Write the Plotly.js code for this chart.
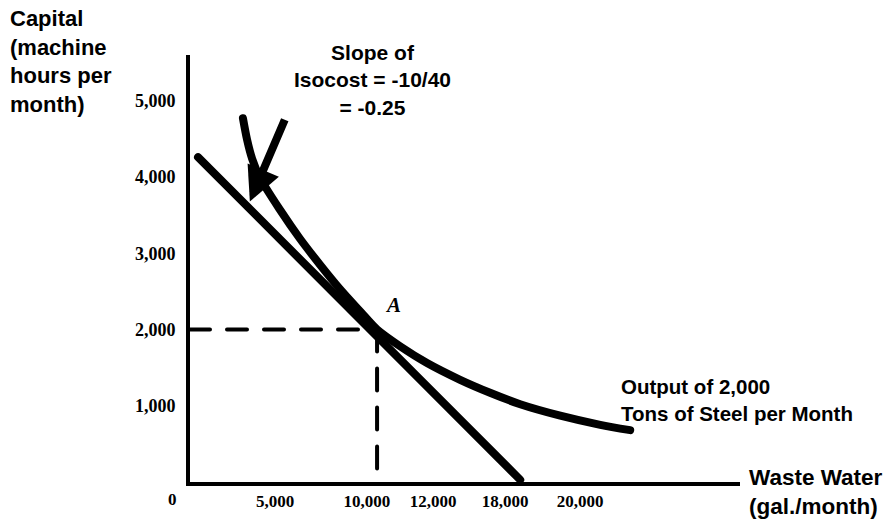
<!DOCTYPE html>
<html>
<head>
<meta charset="utf-8">
<script src="https://cdn.plot.ly/plotly-3.0.1.min.js"></script>
<style>
html,body{margin:0;padding:0;background:#fff;}
#chart{width:892px;height:523px;}
.scatterlayer path.js-line{stroke-linecap:round;}
</style>
</head>
<body>
<div id="chart"></div>
<script>
// Isoquant: output of 2,000 tons of steel per month
const isoquantX = [2830, 3050, 3320, 3740, 4810, 5880, 6950, 8020, 9090, 10000, 11230, 12670, 14440, 16040, 17650, 19790, 21930, 23530];
const isoquantY = [4770, 4490, 4240, 3990, 3570, 3190, 2850, 2530, 2240, 2000, 1780, 1560, 1340, 1170, 1020, 870, 750, 680];
// Isocost line
const isocostX = [430, 17650];
const isocostY = [4260, 30];
// Point A (tangency)
const pointA = {x: 10000, y: 2000};
// Tick labels (the source figure places its x labels unevenly; positions follow the figure)
const xTickPositions = [4550, 9450, 13000, 16850, 20850];
const xTickText = ["5,000", "10,000", "12,000", "18,000", "20,000"];
const yTickVals = [1000, 2000, 3000, 4000, 5000];
const yTickText = ["1,000", "2,000", "3,000", "4,000", "5,000"];
// Slope arrow (tail -> tip)
const arrowTail = {x: 5100, y: 4770};
const arrowTip = {x: 3200, y: 3680};

const sans = "Arial, 'Liberation Sans', sans-serif";
const serif = "'Times New Roman', 'Liberation Serif', serif";
const b = s => '<b>' + s + '</b>';

const traces = [
  {x: [0, pointA.x], y: [pointA.y, pointA.y], mode: 'lines',
   line: {color: '#000', width: 4, dash: '20px,17px'}, hoverinfo: 'skip'},
  {x: [pointA.x, pointA.x], y: [pointA.y, 0], mode: 'lines',
   line: {color: '#000', width: 4, dash: '22px,17px'}, hoverinfo: 'skip'},
  {x: isocostX, y: isocostY, mode: 'lines',
   line: {color: '#000', width: 8}, hoverinfo: 'skip'},
  {x: isoquantX, y: isoquantY, mode: 'lines',
   line: {color: '#000', width: 8, shape: 'spline', smoothing: 0.8}, hoverinfo: 'skip'}
];

const layout = {
  width: 892, height: 523,
  margin: {l: 190, r: 152, t: 55, b: 41},
  paper_bgcolor: '#fff', plot_bgcolor: '#fff',
  showlegend: false,
  xaxis: {
    range: [0, 29400], showgrid: false, zeroline: false,
    showline: true, linecolor: '#000', linewidth: 4,
    tickvals: xTickPositions, ticktext: xTickText.map(b), ticks: '', tickangle: 0,
    ticklabelstandoff: 1,
    tickfont: {family: serif, size: 17, color: '#000'}
  },
  yaxis: {
    range: [0, 5600], showgrid: false, zeroline: false,
    showline: true, linecolor: '#000', linewidth: 4,
    tickvals: yTickVals, ticktext: yTickText.map(b), ticks: '',
    ticklabelstandoff: 7,
    tickfont: {family: serif, size: 18, color: '#000'}
  },
  annotations: [
    {x: arrowTip.x, y: arrowTip.y, ax: arrowTail.x, ay: arrowTail.y,
     xref: 'x', yref: 'y', axref: 'x', ayref: 'y', text: '',
     showarrow: true, arrowhead: 2, arrowsize: 0.85, arrowwidth: 8, arrowcolor: '#000'},
    {x: pointA.x, y: pointA.y, xref: 'x', yref: 'y', text: '<b><i>A</i></b>',
     showarrow: false, xshift: 16, yshift: 25,
     font: {family: serif, size: 21, color: '#000'}},
    {x: 0.331, y: 0.941, xref: 'paper', yref: 'paper', text: b('Slope of') + '<br>' + b('Isocost = -10/40') + '<br>' + b('= -0.25'),
     showarrow: false, xanchor: 'center', yanchor: 'middle', align: 'center',
     font: {family: sans, size: 21, color: '#000'}},
    {x: -0.331, y: 0.985, xref: 'paper', yref: 'paper', text: b('Capital') + '<br>' + b('(machine') + '<br>' + b('hours per') + '<br>' + b('month)'),
     showarrow: false, xanchor: 'left', yanchor: 'middle', align: 'left',
     font: {family: sans, size: 22, color: '#000'}},
    {x: 0.78, y: 0.192, xref: 'paper', yref: 'paper', text: b('Output of 2,000') + '<br>' + b('Tons of Steel per Month'),
     showarrow: false, xanchor: 'left', yanchor: 'middle', align: 'left',
     font: {family: sans, size: 20.5, color: '#000'}},
    {x: 1.012, y: -0.023, xref: 'paper', yref: 'paper', text: b('Waste Water') + '<br>' + b('(gal./month)'),
     showarrow: false, xanchor: 'left', yanchor: 'middle', align: 'left',
     font: {family: sans, size: 22.5, color: '#000'}},
    {x: -0.031, y: -0.042, xref: 'paper', yref: 'paper', text: b('0'),
     showarrow: false, xanchor: 'center', yanchor: 'middle',
     font: {family: serif, size: 17, color: '#000'}}
  ]
};

Plotly.newPlot('chart', traces, layout, {staticPlot: true, displayModeBar: false});
</script>
</body>
</html>
